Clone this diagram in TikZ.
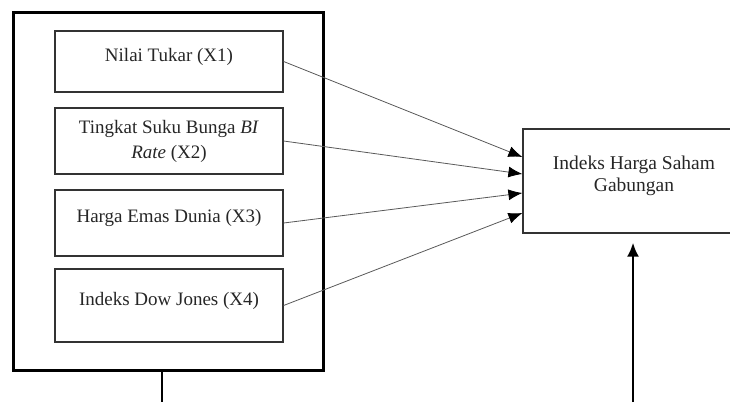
\documentclass[tikz,border=0pt]{standalone}
\usepackage{fontspec}
\setmainfont{Liberation Serif}
\usetikzlibrary{arrows.meta,calc}

\begin{document}
\begin{tikzpicture}[x=1pt,y=-1pt,
  varbox/.style={draw=black!80, line width=1.2pt, minimum width=228pt, align=center,
    inner sep=0pt, text=black!85, font=\fontsize{19}{25}\selectfont},
  link/.style={draw=black!65, line width=0.8pt, -{Latex[length=14pt,width=11pt,color=black]}}]
\clip (0,0) rectangle (730,402);
\node[draw, line width=3pt, minimum width=310pt, minimum height=358pt] (grp) at (168,191) {};
\node[varbox, minimum height=61pt, text depth=14pt] (x1) at (169,61.5) {Nilai Tukar (X1)};
\node[varbox, minimum height=66pt] (x2) at (169,141) {Tingkat Suku Bunga \textit{BI}\\\textit{Rate} (X2)};
\node[varbox, minimum height=66pt, text depth=14pt] (x3) at (169,223) {Harga Emas Dunia (X3)};
\node[varbox, minimum height=73pt, text depth=14pt] (x4) at (169,305.5) {Indeks Dow Jones (X4)};
\node[varbox, minimum width=222pt, minimum height=104pt, text depth=14pt,
  font=\fontsize{19.5}{22}\selectfont] (ihsg) at (634,181) {Indeks Harga Saham\\Gabungan};
\coordinate (grpout) at (162,402);
\coordinate (ihsgin) at (633,402);
\draw[link] (x1.east) -- ($(ihsg.west)+(0,-24)$);
\draw[link] (x2.east) -- ($(ihsg.west)+(0,-7)$);
\draw[link] (x3.east) -- ($(ihsg.west)+(0,12)$);
\draw[link] (x4.east) -- ($(ihsg.west)+(0,32)$);
\draw[line width=2.5pt] (grp.south -| grpout) -- (grpout);
\draw[line width=2.5pt, -{Latex[length=14pt,width=12pt]}, shorten >=9pt] (ihsgin) -- (ihsgin |- ihsg.south);
\end{tikzpicture}
\end{document}
